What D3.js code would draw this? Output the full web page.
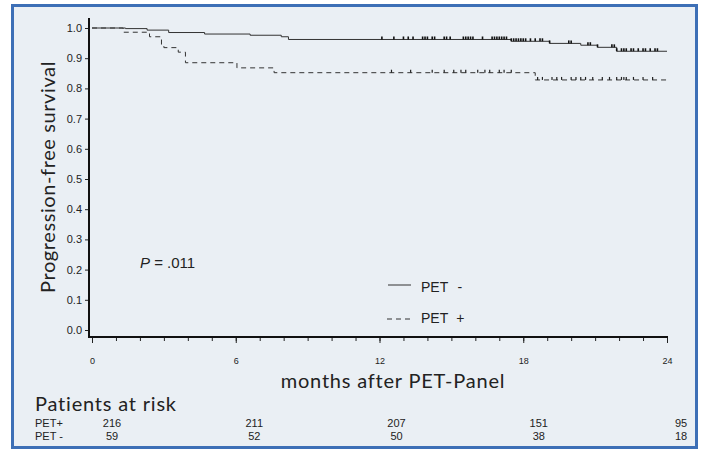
<!DOCTYPE html>
<html>
<head>
<meta charset="utf-8"/>
<script src="https://cdn.jsdelivr.net/npm/d3@7"></script>
<style>
  body { margin: 0; background: #fff; }
  text { fill: #222; }
</style>
</head>
<body>
<script>
// survival steps (months, proportion)
var negTimes = [0, 1.4, 2.3, 3.2, 4.7, 6.6, 7.9, 8.2, 17.5, 19.1, 20.4, 21.1, 21.9, 24];
var negSurv  = [1, 0.998, 0.993, 0.985, 0.98, 0.976, 0.971, 0.962, 0.956, 0.949, 0.943, 0.936, 0.923, 0.923];
var posTimes = [0, 1.3, 2.4, 2.9, 3.0, 3.6, 3.9, 6.05, 7.6, 18.5, 24];
var posSurv  = [1, 0.986, 0.971, 0.945, 0.935, 0.92, 0.885, 0.868, 0.852, 0.828, 0.828];

// censoring marks
var negCensor = [12.1, 12.6, 13.0, 13.2, 13.4, 13.8, 13.9, 14.0, 14.2, 14.3, 14.7, 14.8, 14.95,
  15.5, 15.6, 15.7, 15.8, 15.9, 16.3, 16.7, 16.8, 16.9, 17.0, 17.1, 17.2, 17.3, 17.5, 17.6,
  17.7, 17.8, 17.9, 18.0, 18.1, 18.3, 18.5, 18.7, 18.8, 19.1, 19.9, 20.0, 20.7, 20.8, 21.1,
  21.7, 21.8, 21.9, 22.1, 22.2, 22.3, 22.5, 22.6, 22.8, 23.0, 23.1, 23.3, 23.5, 23.6];
var posCensor = [12.5, 13.3, 14.2, 14.7, 15.1, 15.4, 15.6, 16.1, 16.4, 16.6, 17.0, 17.2, 17.5,
  18.6, 18.8, 19.2, 19.4, 19.6, 20.0, 20.2, 20.4, 20.6, 20.9, 21.3, 21.6, 21.9, 22.1, 22.2,
  22.3, 22.6, 23.0, 23.4];

var yTicks = [0, 0.1, 0.2, 0.3, 0.4, 0.5, 0.6, 0.7, 0.8, 0.9, 1.0];
var xTicks = [0, 6, 12, 18, 24];
var riskGroups = ["PET+", "PET -"];
var riskPos = [216, 211, 207, 151, 95];
var riskNeg = [59, 52, 50, 38, 18];

var W = 702, H = 452;
var svg = d3.select("body").append("svg").attr("width", W).attr("height", H);

svg.append("rect")
  .attr("x", 12.5).attr("y", 5.5).attr("width", 684).attr("height", 442)
  .attr("fill", "#eaeff4").attr("stroke", "#3d6fb6").attr("stroke-width", 3);

var x = d3.scaleLinear().domain([0, 24]).range([92, 667]);
var y = d3.scaleLinear().domain([0, 1]).range([330, 28]);

// axes
var yAxis = svg.append("g").attr("transform", "translate(89,0)")
  .call(d3.axisLeft(y).tickValues(yTicks).tickFormat(d3.format(".1f")).tickSize(4).tickPadding(3));
yAxis.select(".domain").remove();
yAxis.selectAll("text").style("font-family", "Liberation Sans, Arial").style("font-size", "11px").attr("fill", "#333");
yAxis.selectAll("line").attr("stroke", "#222");
svg.append("line").attr("x1", 89).attr("x2", 89).attr("y1", 18).attr("y2", 338)
  .attr("stroke", "#111").attr("stroke-width", 2);

var xMinor = svg.append("g").attr("transform", "translate(0,337)")
  .call(d3.axisBottom(x).tickValues(d3.range(0, 25)).tickFormat("").tickSize(4));
xMinor.select(".domain").remove();
xMinor.selectAll("line").attr("stroke", "#222");
var xAxis = svg.append("g").attr("transform", "translate(0,337)")
  .call(d3.axisBottom(x).tickValues(xTicks).tickFormat(d3.format("d")).tickSize(6).tickPadding(15));
xAxis.select(".domain").remove();
xAxis.selectAll("line").attr("stroke", "#222");
xAxis.selectAll("text").style("font-family", "Liberation Sans, Arial").style("font-size", "9px").attr("fill", "#333");
svg.append("line").attr("x1", 88).attr("x2", 668).attr("y1", 337).attr("y2", 337)
  .attr("stroke", "#111").attr("stroke-width", 2);

// curves
function steps(ts, ss) { return ts.map(function(t, i) { return [t, ss[i]]; }); }
var line = d3.line().x(function(d) { return x(d[0]); }).y(function(d) { return y(d[1]); }).curve(d3.curveStepAfter);

svg.append("path").datum(steps(negTimes, negSurv)).attr("d", line)
  .attr("fill", "none").attr("stroke", "#333").attr("stroke-width", 1);
svg.append("path").datum(steps(posTimes, posSurv)).attr("d", line)
  .attr("fill", "none").attr("stroke", "#333").attr("stroke-width", 1).attr("stroke-dasharray", "5,4");

function survAt(ts, ss, t) {
  var i = d3.bisectRight(ts, t) - 1;
  return ss[Math.max(0, i)];
}
svg.append("g").selectAll("line").data(negCensor).join("line")
  .attr("x1", function(d) { return x(d); }).attr("x2", function(d) { return x(d); })
  .attr("y1", function(d) { return y(survAt(negTimes, negSurv, d)); })
  .attr("y2", function(d) { return y(survAt(negTimes, negSurv, d)) - 3; })
  .attr("stroke", "#111").attr("stroke-width", 1.6);
svg.append("g").selectAll("line").data(posCensor).join("line")
  .attr("x1", function(d) { return x(d); }).attr("x2", function(d) { return x(d); })
  .attr("y1", function(d) { return y(survAt(posTimes, posSurv, d)); })
  .attr("y2", function(d) { return y(survAt(posTimes, posSurv, d)) - 3; })
  .attr("stroke", "#222").attr("stroke-width", 1.2);

// legend
var lg = svg.append("g").style("font-family", "Liberation Sans, Arial").style("font-size", "14px");
lg.append("line").attr("x1", 388).attr("x2", 411).attr("y1", 285).attr("y2", 285).attr("stroke", "#333");
var t1 = lg.append("text").attr("x", 421).attr("y", 292);
t1.append("tspan").text("PET");
t1.append("tspan").attr("dx", 10).text("-");
lg.append("line").attr("x1", 387).attr("x2", 410).attr("y1", 319).attr("y2", 319)
  .attr("stroke", "#333").attr("stroke-dasharray", "5,4");
var t2 = lg.append("text").attr("x", 421).attr("y", 323);
t2.append("tspan").text("PET");
t2.append("tspan").attr("dx", 8).text("+");

// p-value
var pt = svg.append("text").attr("x", 140).attr("y", 268)
  .style("font-family", "Liberation Sans, Arial").style("font-size", "15px");
pt.append("tspan").style("font-style", "italic").text("P");
pt.append("tspan").text(" = .011");

// axis titles
var titleFont = "Lato, Open Sans, sans-serif";
svg.append("text").attr("transform", "translate(55,177) rotate(-90)")
  .attr("text-anchor", "middle").style("font-family", titleFont).style("font-size", "20px")
  .style("letter-spacing", "0.6px").text("Progression-free survival");
svg.append("text").attr("x", 393).attr("y", 388)
  .attr("text-anchor", "middle").style("font-family", titleFont).style("font-size", "20px")
  .style("letter-spacing", "0.8px").text("months after PET-Panel");

// patients at risk
svg.append("text").attr("x", 35).attr("y", 411)
  .style("font-family", titleFont).style("font-size", "20px").style("letter-spacing", "0.8px")
  .text("Patients at risk");
var rx = d3.scaleLinear().domain([0, 24]).range([112, 681]);
var rt = svg.append("g").style("font-family", "Liberation Sans, Arial").style("font-size", "11px");
rt.selectAll("text.g").data(riskGroups).join("text").attr("class", "g")
  .attr("x", 35).attr("y", function(d, i) { return 427 + i * 12.5; }).text(function(d) { return d; });
[riskPos, riskNeg].forEach(function(row, r) {
  rt.selectAll("text.r" + r).data(row).join("text").attr("class", "r" + r)
    .attr("x", function(d, i) { return rx(xTicks[i]); })
    .attr("y", 427 + r * 12.5).attr("text-anchor", "middle").text(function(d) { return d; });
});
</script>
</body>
</html>
